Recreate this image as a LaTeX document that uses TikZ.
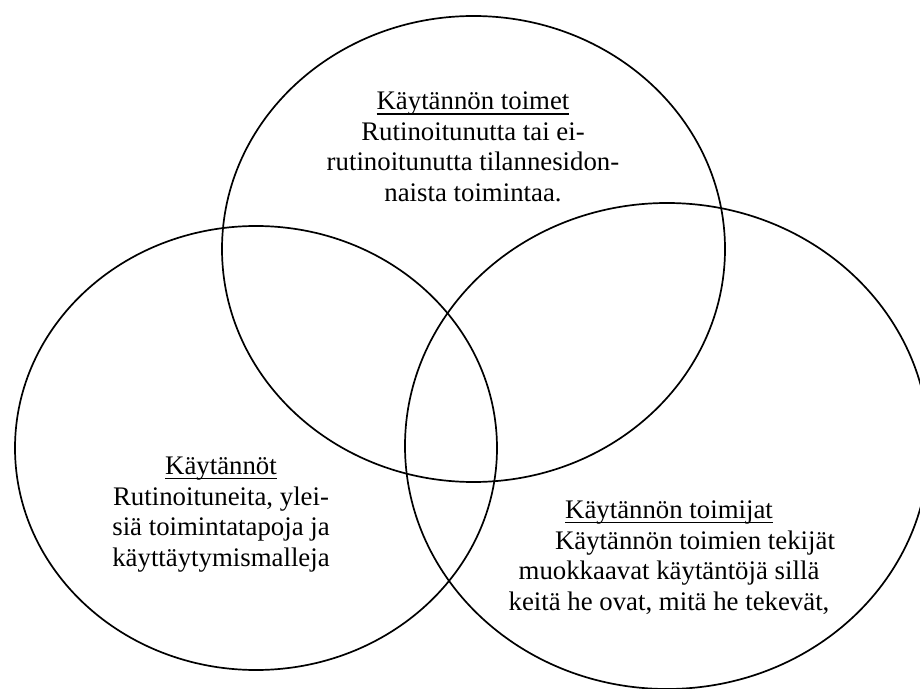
\documentclass[tikz,border=0pt]{standalone}
\usepackage{fontspec}
\setmainfont{Liberation Serif}
\newcommand\venntitle[1]{\setbox0\hbox{#1}\rlap{\rule[-2.4pt]{\wd0}{0.7pt}}\box0}
\tikzset{
	venn/.style={line width=0.85pt},
	blocktext/.style={align=center, inner sep=0pt, anchor=base,
		font=\rmfamily\fontsize{13.4}{15.25}\selectfont}
}
\begin{document}
\begin{tikzpicture}[x=0.5pt,y=-0.5pt]
		\useasboundingbox (0,0) rectangle (920,689);
		\clip (0,0) rectangle (920,689);

		% the three sets
		\draw[venn] (473.5,249) ellipse [x radius=251.5, y radius=233];
		\draw[venn] (256,448) ellipse [x radius=241, y radius=222];
		\draw[venn] (667,446) ellipse [x radius=262, y radius=243];

		% labels, placed at the baseline of their last line
		\node[blocktext] (toimet) at (473,201.5) {\venntitle{Käytännön toimet}\\
			Rutinoitunutta tai ei-\\
			rutinoitunutta tilannesidon-\\
			naista toimintaa.};
		\node[blocktext] (kaytannot) at (221,566) {\venntitle{Käytännöt}\\
			Rutinoituneita, ylei-\\
			siä toimintatapoja ja\\
			käyttäytymismalleja};
		\node[blocktext] (toimijat) at (669,610) {\venntitle{Käytännön toimijat}\\
			\hspace*{26pt}Käytännön toimien tekijät\\
			muokkaavat käytäntöjä sillä\\
			keitä he ovat, mitä he tekevät,};
	\end{tikzpicture}
\end{document}
